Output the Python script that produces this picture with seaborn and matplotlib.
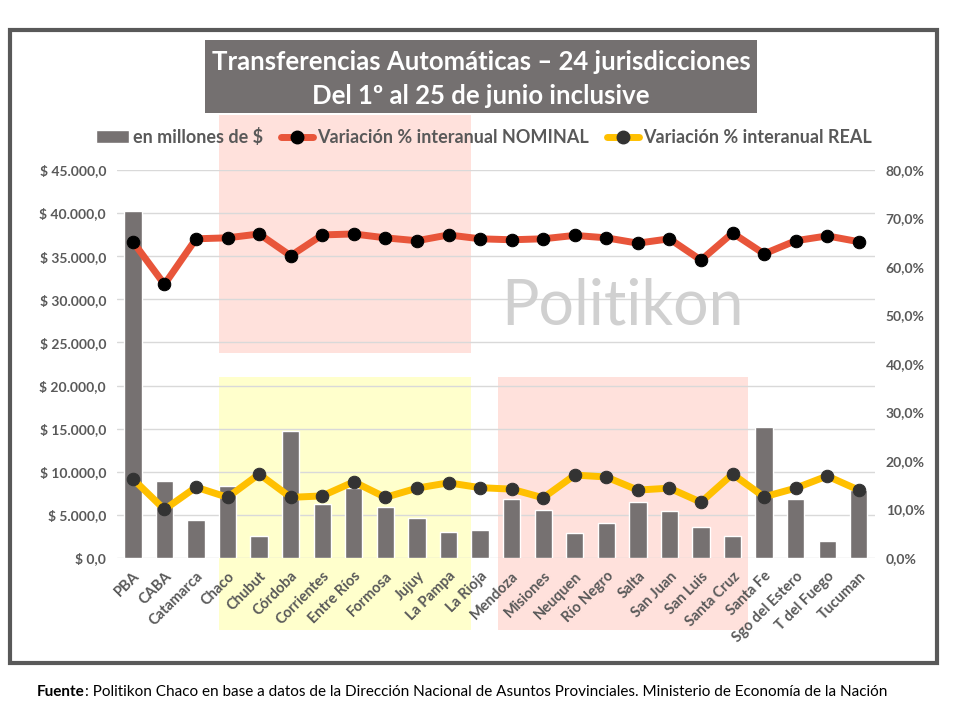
import numpy as np
import pandas as pd
import seaborn as sns
import matplotlib.pyplot as plt
from matplotlib.patches import Rectangle
from matplotlib.lines import Line2D
from matplotlib.ticker import FuncFormatter
import matplotlib.transforms as mtransforms

jurisdicciones = ["PBA", "CABA", "Catamarca", "Chaco", "Chubut", "Córdoba", "Corrientes",
                  "Entre Ríos", "Formosa", "Jujuy", "La Pampa", "La Rioja", "Mendoza",
                  "Misiones", "Neuquen", "Río Negro", "Salta", "San Juan", "San Luis",
                  "Santa Cruz", "Santa Fe", "Sgo del Estero", "T del Fuego", "Tucuman"]
millones = [40250, 8900, 4400, 8350, 2550, 14750, 6250, 8100, 5950, 4650, 3000, 3250,
            6850, 5550, 2900, 4050, 6500, 5450, 3600, 2550, 15200, 6850, 2000, 7900]
var_nominal = [65.2, 56.4, 65.8, 66.0, 66.8, 62.3, 66.6, 66.8, 66.0, 65.4, 66.6, 65.8,
               65.6, 65.8, 66.5, 66.0, 64.9, 65.8, 61.4, 67.0, 62.7, 65.4, 66.4, 65.2]
var_real = [16.3, 10.0, 14.6, 12.5, 17.3, 12.5, 12.8, 15.7, 12.5, 14.4, 15.5, 14.5,
            14.2, 12.4, 17.1, 16.7, 14.0, 14.4, 11.5, 17.3, 12.6, 14.4, 16.9, 14.0]

df = pd.DataFrame({"jur": jurisdicciones, "millones": millones,
                   "nominal": var_nominal, "real": var_real})
df["idx"] = np.arange(len(df))

sns.set_style("white")
plt.rcParams["font.family"] = ["Lato", "DejaVu Sans"]

GRIS = "#595959"
BARRA = "#767171"
ROJO = "#E8553A"
AMARILLO = "#FFC000"

fig = plt.figure(figsize=(9.6, 7.2), dpi=100)
ax = fig.add_axes([0.122, 0.225, 0.789, 0.539])
ax.patch.set_visible(False)

sns.barplot(data=df, x="jur", y="millones", color=BARRA, width=0.55,
            saturation=1, ax=ax, zorder=2)
ax.set_xlim(-0.5, len(df) - 0.5)
ax.set_ylim(0, 45000)
ax.set_yticks(np.arange(0, 45001, 5000))
ax.yaxis.set_major_formatter(FuncFormatter(
    lambda v, p: "$ " + f"{v:,.1f}".replace(",", "X").replace(".", ",").replace("X", ".")))
ax.grid(axis="y", color="#D9D9D9", linewidth=1)
ax.set_axisbelow(True)
ax.set_xlabel("")
ax.set_ylabel("")
ax.tick_params(length=0, labelsize=10, labelcolor=GRIS, pad=8)
for lab in ax.get_yticklabels():
    lab.set_fontweight("bold")
ax.set_xticks(df["idx"])
ax.set_xticklabels(df["jur"], rotation=45, ha="right", rotation_mode="anchor",
                   fontweight="bold", fontsize=10.5, color=GRIS)
for s in ax.spines.values():
    s.set_visible(False)

ax2 = ax.twinx()
ax2.set_zorder(ax.get_zorder() + 1)
ax2.patch.set_visible(False)
sns.lineplot(data=df, x="idx", y="nominal", ax=ax2, color=ROJO, linewidth=5,
             marker="o", markersize=9, markerfacecolor="black",
             markeredgecolor="black")
sns.lineplot(data=df, x="idx", y="real", ax=ax2, color=AMARILLO, linewidth=5,
             marker="o", markersize=9, markerfacecolor="#333333",
             markeredgecolor="#333333")
ax2.set_ylim(0, 80)
ax2.set_yticks(np.arange(0, 81, 10))
ax2.yaxis.set_major_formatter(FuncFormatter(lambda v, p: f"{v:.1f}%".replace(".", ",")))
ax2.tick_params(length=0, labelsize=10, labelcolor=GRIS, pad=8)
for lab in ax2.get_yticklabels():
    lab.set_fontweight("bold")
ax2.set_xlabel("")
ax2.set_ylabel("")
ax2.set_xlim(-0.5, len(df) - 0.5)
for s in ax2.spines.values():
    s.set_visible(False)

# zonas sombreadas (x en categorias, y en figura)
tr = mtransforms.blended_transform_factory(ax.transData, fig.transFigure)
zonas = [(2.73, 10.7, 1 - 353 / 720, 1 - 115 / 720, "#FFE1DC"),
         (2.73, 10.7, 1 - 630 / 720, 1 - 377 / 720, "#FFFFCC"),
         (11.56, 19.5, 1 - 630 / 720, 1 - 377 / 720, "#FFE1DC")]
for x0, x1, y0, y1, c in zonas:
    ax.add_patch(Rectangle((x0, y0), x1 - x0, y1 - y0, transform=tr,
                           facecolor=c, edgecolor="none", zorder=0.1, clip_on=False))

# marca de agua
ax.text(0.667, 0.647, "Politikon", transform=ax.transAxes,
        fontsize=45, color="#D0D0D0", ha="center", va="center", zorder=1)

# marco y titulo
fig.patches.append(Rectangle((10 / 960, 1 - 663 / 720), 927 / 960, 633 / 720,
                             transform=fig.transFigure, facecolor="none",
                             edgecolor="#595959", linewidth=3))
fig.patches.append(Rectangle((205 / 960, 1 - 113 / 720), 552 / 960, 73 / 720,
                             transform=fig.transFigure, facecolor="#747070",
                             edgecolor="none"))
fig.text(481 / 960, 1 - 62 / 720, "Transferencias Automáticas – 24 jurisdicciones",
         ha="center", va="center", color="white", fontsize=18.5, fontweight="bold")
fig.text(481 / 960, 1 - 96 / 720, "Del 1º al 25 de junio inclusive",
         ha="center", va="center", color="white", fontsize=18.5, fontweight="bold")

# leyenda
handles = [Rectangle((0, 0), 1, 1, facecolor=BARRA),
           Line2D([], [], color=ROJO, linewidth=5, marker="o", markersize=9,
                  markerfacecolor="black", markeredgecolor="black"),
           Line2D([], [], color=AMARILLO, linewidth=5, marker="o", markersize=9,
                  markerfacecolor="#333333", markeredgecolor="#333333")]
leg = fig.legend(handles, ["en millones de $", "Variación % interanual NOMINAL",
                           "Variación % interanual REAL"],
                 loc="center", bbox_to_anchor=(484 / 960, 1 - 137 / 720), ncol=3,
                 frameon=False, handlelength=1.8, handletextpad=0.2,
                 columnspacing=1.0, prop={"weight": "bold", "size": 13})
for t in leg.get_texts():
    t.set_color(GRIS)

# fuente
t1 = fig.text(37 / 960, 1 - 692 / 720, "Fuente", fontsize=11, fontweight="bold",
              color="black", va="center")
fig.canvas.draw()
ann = plt.annotate(": Politikon Chaco en base a datos de la Dirección Nacional de Asuntos "
                   "Provinciales. Ministerio de Economía de la Nación",
                   xy=(1, 0.5), xycoords=t1, va="center", fontsize=11, color="black",
                   annotation_clip=False)

fig.savefig("out.png", dpi=100)
